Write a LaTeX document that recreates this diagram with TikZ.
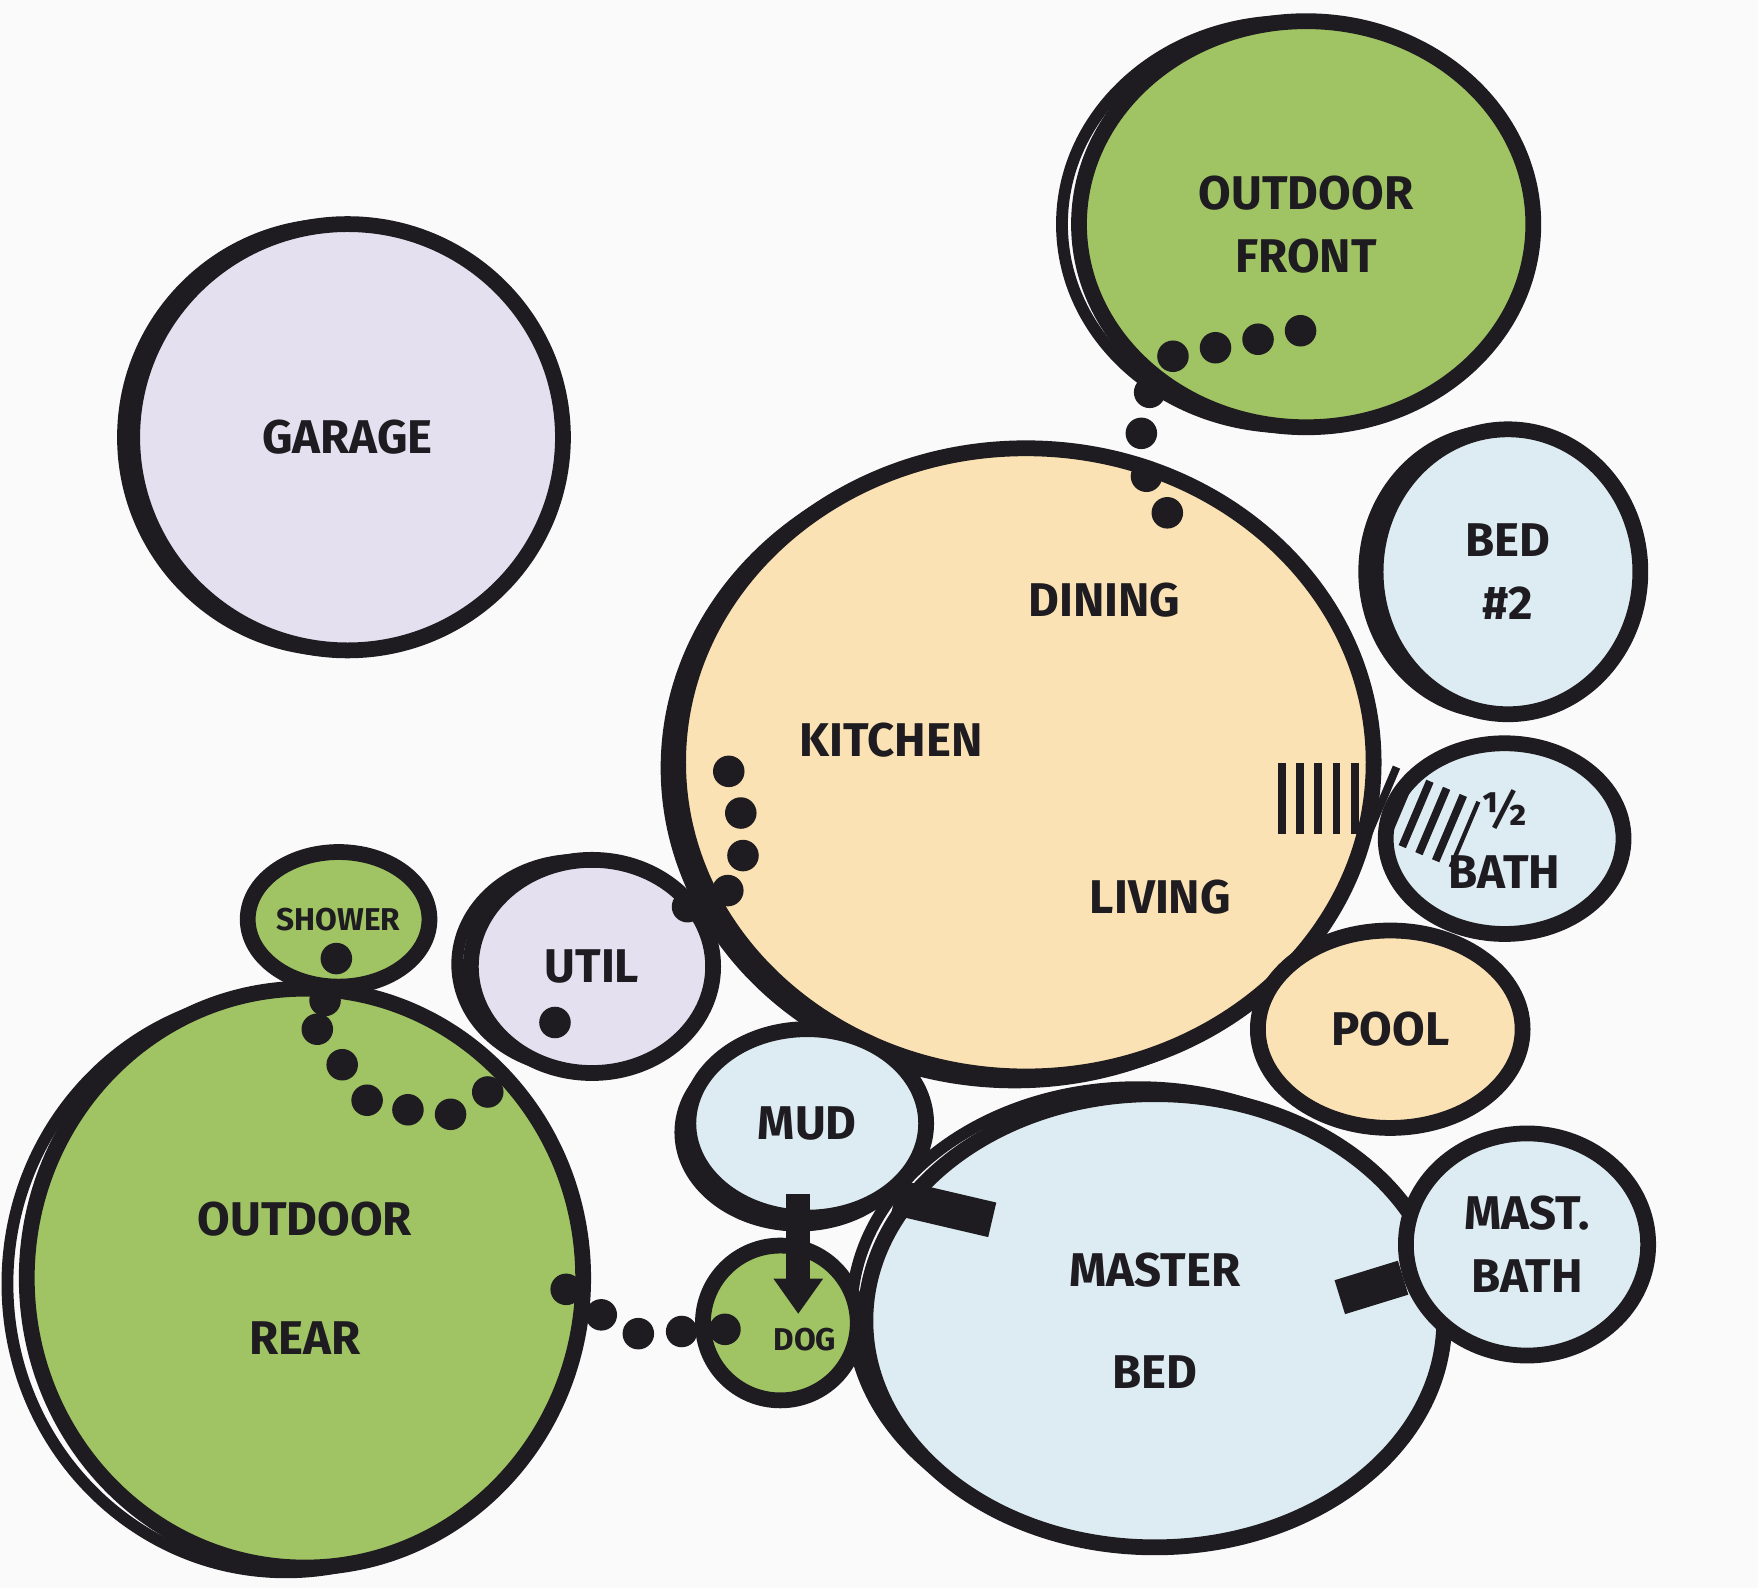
\documentclass[tikz,border=0pt]{standalone}
\usepackage{fontspec}
\setmainfont{Fira Sans}
\usetikzlibrary{shapes.geometric,arrows.meta}
\definecolor{ink}{RGB}{30,28,32}
\definecolor{grn}{RGB}{160,196,100}
\definecolor{org}{RGB}{250,226,180}
\definecolor{lav}{RGB}{228,224,240}
\definecolor{pblue}{RGB}{220,236,242}
\definecolor{paper}{RGB}{250,250,250}
\tikzset{
 bubble/.style={ellipse,draw=ink,line width=4pt,inner sep=0pt,align=center,
   font=\fontsize{12}{16}\selectfont\bfseries,text=ink},
 lbl/.style={font=\fontsize{12}{16}\selectfont\bfseries,text=ink},
 dots/.style={draw=ink,line width=8pt,line cap=round,dash pattern=on 0pt off 11pt},
 hatch/.style={draw=ink,line width=18pt,dash pattern=on 2pt off 2.6pt},
 bar/.style={draw=ink,line width=9pt},
}
\begin{document}
\begin{tikzpicture}[x=0.01cm,y=-0.01cm]
\fill[paper] (0,0) rectangle (1568,1416);
\useasboundingbox (0,0) rectangle (1568,1416);
% second outlines
\foreach \x/\y/\w/\h in {300/390/380/380, 1150/200/405/362, 905/685/620/560, 1335/510/236/252, 255/1145/496/514, 1015/1170/510/400, 515/860/214/186, 712/1010/210/166}
  \draw[ink,line width=3pt] (\x,\y) ellipse [x radius=\w*0.005cm, y radius=\h*0.005cm];
\node[bubble,fill=lav,minimum width=3.84cm,minimum height=3.80cm] (garage) at (310,390) {GARAGE};
\node[bubble,fill=grn,minimum width=4.05cm,minimum height=3.62cm] (front) at (1165,200) {OUTDOOR\\FRONT};
\node[bubble,fill=org,minimum width=6.20cm,minimum height=5.60cm] (main) at (915,680) {};
\node[lbl] (dining) at (985,535) {DINING};
\node[lbl] (kitchen) at (795,660) {KITCHEN};
\node[lbl] (living) at (1035,800) {LIVING};
\node[bubble,fill=pblue,minimum width=2.36cm,minimum height=2.54cm] (bed2) at (1345,510) {BED\\\#2};
\node[bubble,fill=pblue,minimum width=2.12cm,minimum height=1.70cm] (half) at (1342,748) {\textonehalf\\BATH};
\node[bubble,fill=org,minimum width=2.36cm,minimum height=1.76cm] (pool) at (1240,918) {POOL};
\node[bubble,fill=grn,minimum width=1.62cm,minimum height=1.20cm,font=\fontsize{8}{10}\selectfont\bfseries] (shower) at (302,820) {SHOWER};
\node[bubble,fill=lav,minimum width=2.16cm,minimum height=1.90cm] (util) at (528,862) {UTIL};
\node[bubble,fill=grn,minimum width=4.96cm,minimum height=5.16cm] (rear) at (272,1140) {OUTDOOR\\[14pt]REAR};
\node[bubble,fill=pblue,minimum width=2.12cm,minimum height=1.68cm] (mud) at (720,1002) {MUD};
\node[bubble,fill=grn,minimum width=1.38cm,minimum height=1.38cm] (dog) at (696,1180) {};
\node[font=\fontsize{8}{10}\selectfont\bfseries,text=ink] (doglbl) at (718,1195) {DOG};
\node[bubble,fill=pblue,minimum width=5.16cm,minimum height=4.04cm] (master) at (1030,1178) {MASTER\\[10pt]BED};
\node[bubble,fill=pblue,minimum width=2.16cm,minimum height=1.98cm] (mbath) at (1362,1110) {MAST.\\BATH};
% connectors
\draw[dots] (1160,295) -- (1045,318) -- (1018,362) -- (1018,400) -- (1025,438) -- (1045,462);
\draw[dots] (650,688) -- (665,740) -- (660,790) -- (580,822);
\draw[dots] (300,855) -- (283,918);
\draw[dots] (283,918) -- (330,985) -- (400,995) -- (455,962);
\draw[dots] (495,912) -- (485,932);
\draw[dots] (505,1150) -- (560,1190) -- (660,1185);
\draw[hatch] (1140,712) -- (1225,712);
\draw[hatch] (1230,712) -- (1308,745);
\draw[bar] (mud.-40) -- (885,1088);
\draw[bar] (1195,1157) -- (mbath.195);
\draw[ink,line width=6pt,-{Triangle[length=9pt,width=12pt]}] (712,1065) -- (712,1172);
\end{tikzpicture}
\end{document}
